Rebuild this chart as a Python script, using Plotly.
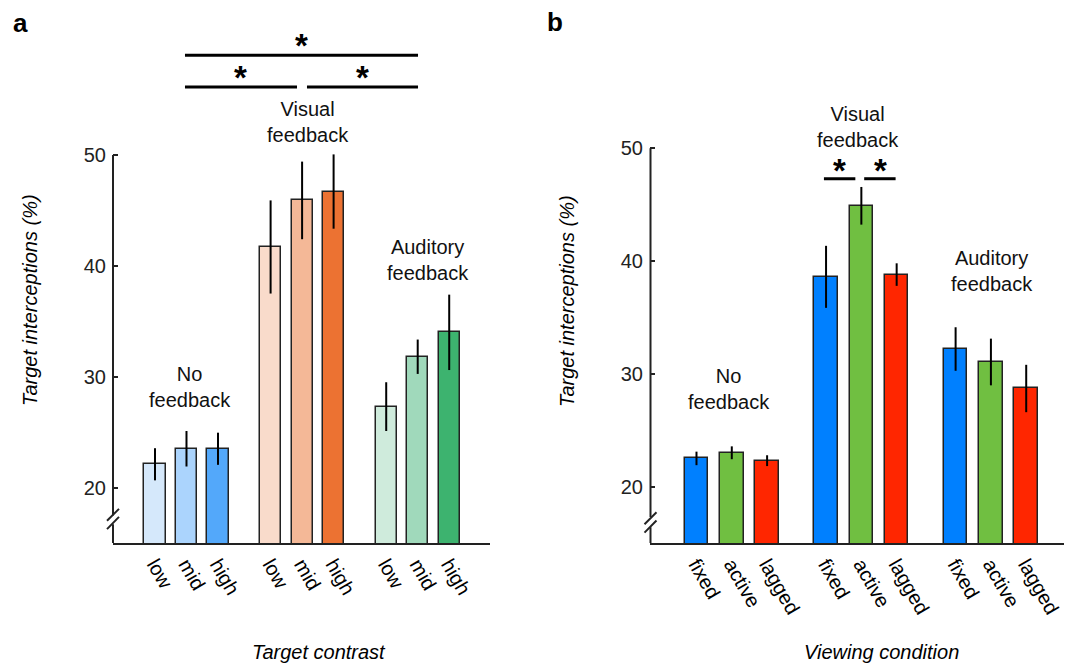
import plotly.graph_objects as go

# ---------------- data ----------------
labels_a = ["low", "mid", "high", "low", "mid", "high", "low", "mid", "high"]
means_a = [22.1, 23.5, 23.5, 41.7, 45.9, 46.7, 27.3, 31.8, 34.0]
errs_a = [1.45, 1.6, 1.45, 4.2, 3.5, 3.35, 2.2, 1.55, 3.4]
colors_a = ["#d5e8fb", "#abd4fd", "#53a8fa",
            "#f9dbcb", "#f4b897", "#ec7232",
            "#cfebdc", "#a0d9bb", "#3db36f"]

labels_b = ["fixed", "active", "lagged", "fixed", "active", "lagged", "fixed", "active", "lagged"]
means_b = [22.5, 23.0, 22.3, 38.6, 44.9, 38.8, 32.2, 31.05, 28.7]
errs_b = [0.6, 0.57, 0.48, 2.75, 1.67, 1.0, 1.93, 2.07, 2.1]
colors_b = ["#0080ff", "#70bf41", "#ff2600"] * 3

group_names = ["No<br>feedback", "Visual<br>feedback", "Auditory<br>feedback"]
yticks = [20, 30, 40, 50]

# ---------------- layout helpers ----------------
FONT = "Liberation Sans, Arial, Helvetica, sans-serif"
OFF = 8            # page body margin
W, H = 1072 - OFF, 665 - OFF


def px_x(p):
    return (p - OFF) / W


def px_y(p):
    return (H - (p - OFF)) / H


step = 3.67
pos = [g * step + i for g in range(3) for i in range(3)]

fig = go.Figure()
fig.add_trace(go.Bar(x=pos, y=means_a, width=0.67, marker=dict(color=colors_a, line=dict(color="#222", width=1.5)),
                     error_y=dict(type="data", array=errs_a, width=0, thickness=2, color="black"),
                     xaxis="x", yaxis="y", cliponaxis=False, showlegend=False, hoverinfo="skip"))
fig.add_trace(go.Bar(x=pos, y=means_b, width=0.67, marker=dict(color=colors_b, line=dict(color="#222", width=1.5)),
                     error_y=dict(type="data", array=errs_b, width=0, thickness=2, color="black"),
                     xaxis="x2", yaxis="y2", cliponaxis=False, showlegend=False, hoverinfo="skip"))

xa_dom = [px_x(113), px_x(490)]
xb_dom = [px_x(650), 1.0]
ydom = [px_y(543), 1.0]

common_x = dict(showline=True, linewidth=2, linecolor="#222", ticks="", showgrid=False, zeroline=False,
                tickangle=60, tickfont=dict(family=FONT, size=20, color="black"))
common_y = dict(showline=False, ticks="inside", ticklen=5, tickwidth=2, tickcolor="#222", showgrid=False,
                zeroline=False, tickvals=yticks, tickfont=dict(family=FONT, size=20, color="#222"),
                ticklabelstandoff=6)

fig.update_layout(
    width=W, height=H, margin=dict(l=0, r=0, t=0, b=0),
    plot_bgcolor="white", paper_bgcolor="white", bargap=0,
    xaxis=dict(domain=xa_dom, range=[-1.333, 10.635], tickvals=pos, ticktext=labels_a, anchor="y", **common_x),
    yaxis=dict(domain=ydom, range=[15, 63.255], anchor="x", **common_y),
    xaxis2=dict(domain=xb_dom, range=[-1.317, 10.637], tickvals=pos, ticktext=labels_b, anchor="y2", **common_x),
    yaxis2=dict(domain=ydom, range=[15, 62.438], anchor="x2", **common_y),
)

shapes = []
ann = []


def yaxis_with_break(xpaper, yref, gap_lo, gap_hi, s1, s2):
    shapes.append(dict(type="line", xref="paper", yref=yref, x0=xpaper, x1=xpaper, y0=15, y1=gap_lo,
                       line=dict(color="#222", width=2)))
    shapes.append(dict(type="line", xref="paper", yref=yref, x0=xpaper, x1=xpaper, y0=gap_hi, y1=50,
                       line=dict(color="#222", width=2)))
    for (ylo, yhi) in (s1, s2):
        shapes.append(dict(type="line", xref="paper", yref=yref, x0=xpaper - 6 / W, x1=xpaper + 6 / W,
                           y0=ylo, y1=yhi, line=dict(color="#222", width=2)))


yaxis_with_break(px_x(113), "y", 16.70, 17.47, (17.0, 18.08), (16.25, 17.36))
yaxis_with_break(px_x(650.5), "y2", 16.4, 17.31, (16.67, 17.73), (15.92, 16.99))


def sig_line(xref, yref, x0, x1, y):
    shapes.append(dict(type="line", xref=xref, yref=yref, x0=x0, x1=x1, y0=y, y1=y,
                       line=dict(color="black", width=3)))


def star(xref, yref, x, y):
    ann.append(dict(xref=xref, yref=yref, x=x, y=y, text="<b>*</b>", showarrow=False, xanchor="center",
                    yanchor="middle", font=dict(family=FONT, size=33, color="black")))


# panel a significance
sig_line("x", "y", 0.952, 8.35, 59.0)
sig_line("x", "y", 0.952, 4.508, 56.13)
sig_line("x", "y", 4.825, 8.35, 56.13)
star("x", "y", 4.65, 59.9)
star("x", "y", 2.73, 57.0)
star("x", "y", 6.59, 57.0)
# panel b significance
sig_line("x2", "y2", 3.61, 4.50, 47.3)
sig_line("x2", "y2", 4.75, 5.64, 47.3)
star("x2", "y2", 4.06, 48.0)
star("x2", "y2", 5.20, 48.0)

# group labels
grp_a = [(1.11, 29.03), (4.86, 52.98), (8.66, 40.53)]
grp_b = [(0.92, 28.66), (4.57, 51.89), (8.36, 39.08)]
for (gx, gy), name in zip(grp_a, group_names):
    ann.append(dict(xref="x", yref="y", x=gx, y=gy, text=name, showarrow=False, xanchor="center",
                    yanchor="middle", font=dict(family=FONT, size=20, color="#111")))
for (gx, gy), name in zip(grp_b, group_names):
    ann.append(dict(xref="x2", yref="y2", x=gx, y=gy, text=name, showarrow=False, xanchor="center",
                    yanchor="middle", font=dict(family=FONT, size=20, color="#111")))


def label(x, y, text, size=20, angle=0):
    ann.append(dict(xref="paper", yref="paper", x=px_x(x), y=px_y(y), text=text, textangle=angle,
                    showarrow=False, xanchor="center", yanchor="middle",
                    font=dict(family=FONT, size=size, color="black")))


# axis titles
label(318.5, 652, "<i>Target contrast</i>")
label(881, 652, "<i>Viewing condition</i>")
label(30, 300, "<i>Target interceptions (%)</i>", angle=-90)
label(567, 301, "<i>Target interceptions (%)</i>", angle=-90)
# panel letters
label(20, 23, "<b>a</b>", size=26)
label(555, 22, "<b>b</b>", size=26)

fig.update_layout(shapes=shapes, annotations=ann)
fig.write_html("out.html")
